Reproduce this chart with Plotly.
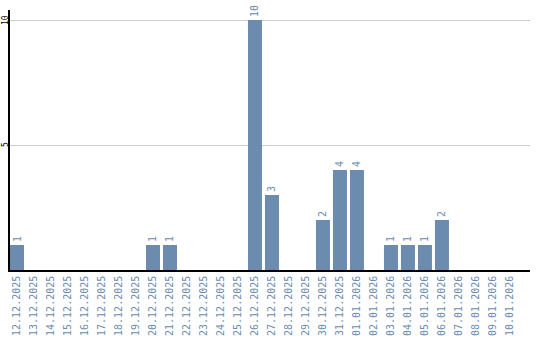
import plotly.graph_objects as go

dates = ["12.12.2025","13.12.2025","14.12.2025","15.12.2025","16.12.2025","17.12.2025",
         "18.12.2025","19.12.2025","20.12.2025","21.12.2025","22.12.2025","23.12.2025",
         "24.12.2025","25.12.2025","26.12.2025","27.12.2025","28.12.2025","29.12.2025",
         "30.12.2025","31.12.2025","01.01.2026","02.01.2026","03.01.2026","04.01.2026",
         "05.01.2026","06.01.2026","07.01.2026","08.01.2026","09.01.2026","10.01.2026"]
counts = [1,0,0,0,0,0,0,0,1,1,0,0,0,0,10,3,0,0,2,4,4,0,1,1,1,2,0,0,0,0]
y_ticks = [5, 10]

bar_color = "#6b8cae"
mono = "DejaVu Sans Mono"

xs = list(range(len(dates)))
labels = [str(v) if v else "" for v in counts]

fig = go.Figure(go.Bar(
    x=xs, y=counts, width=14/17,
    marker=dict(color=bar_color, line=dict(width=0)),
    text=labels, textposition="outside", textangle=-90,
    textfont=dict(family=mono, size=10, color=bar_color),
    cliponaxis=False, constraintext="none",
))

for t in y_ticks:
    fig.add_annotation(
        x=0, xref="paper", y=t, yref="y", text=str(t), showarrow=False,
        textangle=-90, xanchor="center", yanchor="middle", xshift=-5,
        font=dict(family=mono, size=8, color="black"),
    )

fig.update_layout(
    width=540, height=340,
    margin=dict(l=10, r=10, t=10, b=70),
    plot_bgcolor="white", paper_bgcolor="white",
    showlegend=False,
    xaxis=dict(
        range=[-7/17, 30.18], tickmode="array", tickvals=xs, ticktext=dates,
        tickangle=-90, tickfont=dict(family=mono, size=10, color=bar_color),
        showgrid=False, zeroline=False, showline=True, linecolor="black", linewidth=1.5,
        ticks="", automargin=False,
    ),
    yaxis=dict(
        range=[0, 10.4], tickmode="array", tickvals=y_ticks,
        showticklabels=False,
        showgrid=True, gridcolor="#cccccc", gridwidth=1, zeroline=False,
        showline=True, linecolor="black", linewidth=1.5, ticks="", automargin=False,
    ),
)

fig.write_html("out.html")
